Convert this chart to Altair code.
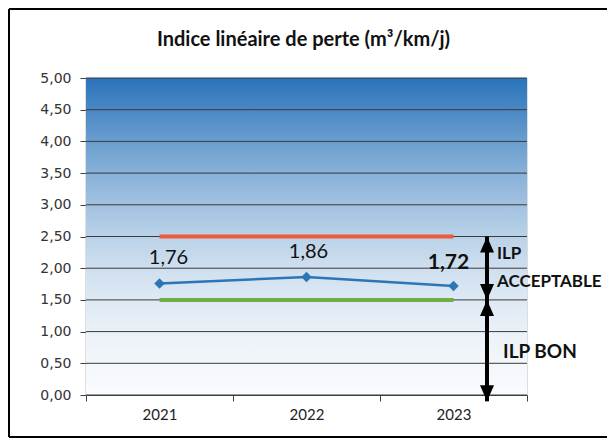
import altair as alt
import pandas as pd

# ---- data ----
years = ["2021", "2022", "2023"]
ilp = [1.76, 1.86, 1.72]
ilp_labels = ["1,76", "1,86", "1,72"]
seuil_acceptable = [2.5, 2.5, 2.5]
seuil_bon = [1.5, 1.5, 1.5]
y_ticks = [0.0, 0.5, 1.0, 1.5, 2.0, 2.5, 3.0, 3.5, 4.0, 4.5, 5.0]
arrow_top = [2.5, 1.5]
arrow_bottom = [1.5, -0.1]
zone_texts = ["ILP", "ACCEPTABLE", "ILP BON"]
zone_text_y = [2.22, 1.78, 0.68]
title_text = ["Indice linéaire de perte (m³/km/j)"]

W, H = 441, 317
PL, PT = 78, 70
SVG_W, SVG_H = 599, 430

df = pd.DataFrame({"year": years, "ilp": ilp, "label": ilp_labels,
                   "acc": seuil_acceptable, "bon": seuil_bon})
grid_df = pd.DataFrame({"v": y_ticks})
arrow_df = pd.DataFrame({"top": arrow_top, "bottom": arrow_bottom})
zone_df = pd.DataFrame({"t": zone_texts, "y": zone_text_y})
one = pd.DataFrame({"a": [0]})
title_df = pd.DataFrame({"t": title_text})

x_scale = alt.Scale(domain=years, paddingInner=0, paddingOuter=0)
y_scale = alt.Scale(domain=[0, 5], nice=False, zero=False)

x_axis = alt.Axis(title=None, labelAngle=0, tickBand="extent", labelFont="Lato",
                  labelFontSize=15, labelColor="#222222", domainColor="#404040",
                  tickColor="#404040", tickSize=6, labelPadding=6, grid=False)
y_axis = alt.Axis(title=None, values=y_ticks, grid=False, labelFont="DejaVu Sans",
                  labelFontSize=14, labelColor="#333333",
                  labelExpr="replace(format(datum.value, '.2f'), '.', ',')",
                  domainColor="#808080", domainWidth=1.5, tickColor="#404040",
                  tickSize=6, labelPadding=9)

X = alt.X("year:N", scale=x_scale, axis=x_axis)


def Yf(field):
    return alt.Y(field, scale=y_scale, axis=y_axis)


grad = alt.Gradient(
    gradient="linear", x1=0, x2=0, y1=0, y2=1,
    stops=[alt.GradientStop(offset=o, color=c) for o, c in [
        (0.0, "#2A73BA"), (0.1, "#4A88C4"), (0.2, "#6A9ECF"), (0.3, "#87B1D8"),
        (0.4, "#A2C2E0"), (0.5, "#B9D2E8"), (0.6, "#CFDFEF"), (0.7, "#DEE9F4"),
        (0.8, "#EAF1F8"), (0.9, "#F3F7FB"), (1.0, "#FAFCFE")]])

# outer frame (left, top, bottom edges; the right edge lies beyond the window)
fx0, fy0 = 1 - PL, 1 - PT
fx1, fy1 = SVG_W - PL, SVG_H - 1 - PT
frame_top = alt.Chart(one).mark_rule(color="#000000", strokeWidth=2).encode(
    x=alt.value(fx0), x2=alt.value(fx1), y=alt.value(fy0))
frame_bottom = alt.Chart(one).mark_rule(color="#000000", strokeWidth=2).encode(
    x=alt.value(fx0), x2=alt.value(fx1), y=alt.value(fy1))
frame_left = alt.Chart(one).mark_rule(color="#000000", strokeWidth=2).encode(
    x=alt.value(fx0), y=alt.value(fy0), y2=alt.value(fy1))

title = alt.Chart(title_df).mark_text(
    font="Lato", fontSize=20, fontWeight="bold", color="#111111",
    align="center", baseline="middle").encode(
    x=alt.value(W / 2 - 3), y=alt.value(-38), text="t:N")

bg = alt.Chart(one).mark_rect(fill=grad).encode(
    x=alt.value(0), x2=alt.value(W), y=alt.value(0), y2=alt.value(H))

grid = alt.Chart(grid_df).mark_rule(color="#3a3a3a", strokeWidth=1).encode(y=Yf("v:Q"))

red = alt.Chart(df).mark_line(color="#EF5B3A", strokeWidth=4, strokeCap="butt").encode(
    x=X, y=Yf("acc:Q"))
green = alt.Chart(df).mark_line(color="#70AD47", strokeWidth=4, strokeCap="butt").encode(
    x=X, y=Yf("bon:Q"))

blue = alt.Chart(df).mark_line(
    color="#2E75B6", strokeWidth=2.5,
    point=alt.OverlayMarkDef(shape="diamond", size=110, filled=True, color="#2E75B6")
).encode(x=X, y=Yf("ilp:Q"))

label_style = [(9, -25, "normal", 20), (2, -25, "normal", 20), (-5, -23, "bold", 21)]
label_layers = []
for yr, (dx, dy, fw, fs) in zip(years, label_style):
    label_layers.append(
        alt.Chart(df).transform_filter(alt.datum.year == yr).mark_text(
            font="Lato", fontSize=fs, fontWeight=fw, color="#111111",
            dx=dx, dy=dy, baseline="middle", align="center"
        ).encode(x=X, y=Yf("ilp:Q"), text="label:N"))

AX = 401
shaft = alt.Chart(arrow_df).mark_rule(color="#000000", strokeWidth=4).encode(
    x=alt.value(AX), y=Yf("top:Q"), y2="bottom:Q")
head_up = alt.Chart(arrow_df).mark_point(
    shape="M0,0 L-0.875,2 L0.875,2 Z", size=256, filled=True, color="#000000", opacity=1
).encode(x=alt.value(AX), y=Yf("top:Q"))
head_down = alt.Chart(arrow_df).mark_point(
    shape="M0,0 L-0.875,-2 L0.875,-2 Z", size=256, filled=True, color="#000000", opacity=1
).encode(x=alt.value(AX), y=Yf("bottom:Q"))

zone_a = alt.Chart(zone_df).transform_filter(alt.datum.t != "ILP BON").mark_text(
    font="Lato", fontSize=17, fontWeight="bold", color="#111111", align="left",
    baseline="middle").encode(x=alt.value(411), y=Yf("y:Q"), text="t:N")
zone_b = alt.Chart(zone_df).transform_filter(alt.datum.t == "ILP BON").mark_text(
    font="Lato", fontSize=19, fontWeight="bold", color="#111111", align="left",
    baseline="middle").encode(x=alt.value(417), y=Yf("y:Q"), text="t:N")

chart = alt.layer(
    frame_top, frame_bottom, frame_left, title, bg, grid, red, green, blue, *label_layers,
    shaft, head_up, head_down, zone_a, zone_b
).properties(
    width=W, height=H,
    padding={"left": PL, "top": PT, "right": SVG_W - PL - W, "bottom": SVG_H - PT - H},
    autosize=alt.AutoSizeParams(type="none"),
).configure_view(stroke="#999999", strokeWidth=1.5).configure(background="#ffffff")

chart.save("out.html", embed_options={"renderer": "svg", "actions": False})
